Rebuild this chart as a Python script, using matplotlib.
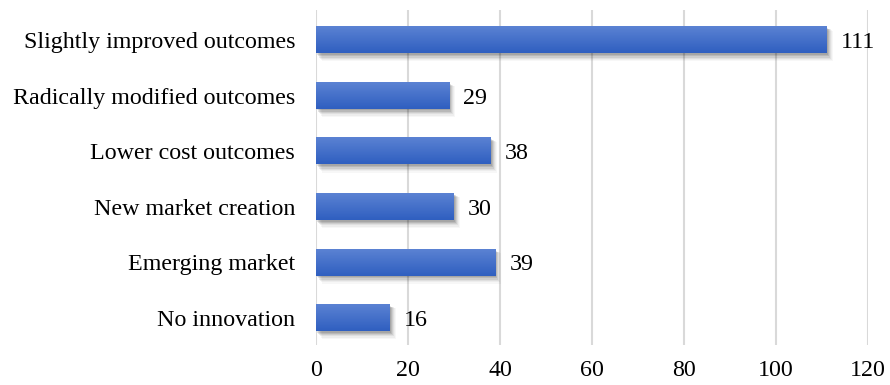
import numpy as np
import matplotlib
matplotlib.use('Agg')
import matplotlib.pyplot as plt
import matplotlib.transforms as mtransforms
from matplotlib.colors import LinearSegmentedColormap

categories = ['Slightly improved outcomes', 'Radically modified outcomes',
              'Lower cost outcomes', 'New market creation',
              'Emerging market', 'No innovation']
counts = [111, 29, 38, 30, 39, 16]
x_ticks = [0, 20, 40, 60, 80, 100, 120]

plt.rcParams['font.family'] = ['Liberation Serif', 'DejaVu Serif']

fig = plt.figure(figsize=(8.9, 3.85), dpi=100)
ax = fig.add_axes([0.3551, 0.1039, 0.6202, 0.8701])

# top bar first, so reverse positions
ypos = np.arange(len(categories))[::-1]
bar_h = 0.48

# soft drop shadow: stacked translucent copies shifted down/right
shadow_steps = [(6, -6, 0.03), (5, -5, 0.04), (4, -4, 0.06),
                (3, -3.5, 0.08), (2, -2.5, 0.1), (1, -1.5, 0.1)]
for i, (dx, dy, a) in enumerate(shadow_steps):
    off = mtransforms.offset_copy(ax.transData, fig=fig, x=dx, y=dy, units='dots')
    ax.barh(ypos, counts, height=bar_h + 0.015 * (5 - i), color='black', alpha=a,
            transform=off, zorder=2, linewidth=0)

bars = ax.barh(ypos, counts, height=bar_h, color='none', zorder=3, linewidth=0)

# vertical gradient fill, lighter at the top
grad_cmap = LinearSegmentedColormap.from_list('bar_grad', ['#2f5fc0', '#5b82d3'])
grad = np.linspace(0, 1, 64).reshape(-1, 1)
for b in bars:
    x0, y0 = b.get_x(), b.get_y()
    w, h = b.get_width(), b.get_height()
    ax.imshow(grad, cmap=grad_cmap, origin='lower', aspect='auto',
              extent=(x0, x0 + w, y0, y0 + h), zorder=4, interpolation='bilinear')

for y, v in zip(ypos, counts):
    ax.annotate(str(v), xy=(v, y), xytext=(10, 0), textcoords='offset points',
                va='center_baseline', ha='left', fontsize=17.3, color='black')

ax.set_xlim(0, 120)
ax.set_ylim(-0.49, 5.54)
ax.set_xticks(x_ticks)
ax.set_yticks(ypos)
ax.set_yticklabels(categories)
ax.tick_params(axis='both', length=0, labelsize=17.3, colors='black')
ax.tick_params(axis='y', pad=15)
ax.tick_params(axis='x', pad=11)
ax.xaxis.grid(True, color='#d9d9d9', linewidth=1.5)
ax.set_axisbelow(True)
for s in ax.spines.values():
    s.set_visible(False)

fig.savefig('out.png', dpi=100)
